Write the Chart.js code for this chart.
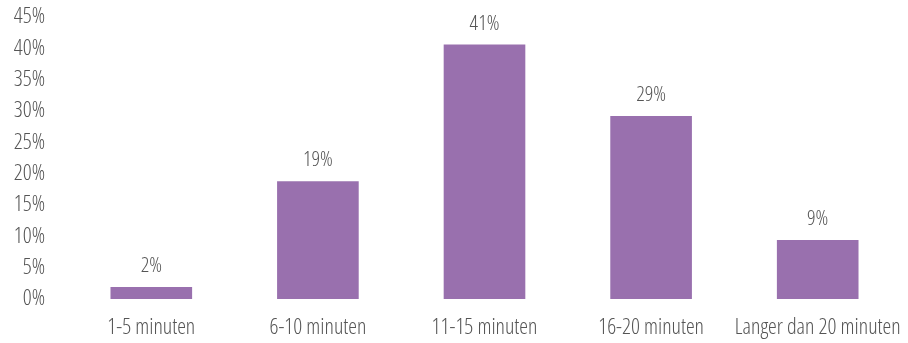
<!DOCTYPE html>
<html>
<head>
<meta charset="utf-8">
<script src="https://cdn.jsdelivr.net/npm/chart.js@4/dist/chart.umd.min.js"></script>
<style>
html,body{margin:0;padding:0;background:#fff;}
#wrap{width:908px;height:343px;position:relative;}
</style>
</head>
<body>
<div id="wrap"><canvas id="c" width="908" height="343"></canvas></div>
<script>
const categories = ["1-5 minuten", "6-10 minuten", "11-15 minuten", "16-20 minuten", "Langer dan 20 minuten"];
const values = [1.9, 18.8, 40.6, 29.2, 9.4];
const valueLabels = ["2%", "19%", "41%", "29%", "9%"];
const yMin = 0, yMax = 45, yStep = 5;

const FAMILY = "'Open Sans', 'Roboto', sans-serif";
const WEIGHT = "condensed 300";
const TEXT = "#555555";
const BAR = "#9970AE";

const labelPlugin = {
  id: 'valueLabels',
  afterDatasetsDraw(chart) {
    const ctx = chart.ctx;
    const meta = chart.getDatasetMeta(0);
    ctx.save();
    ctx.font = WEIGHT + " 21px " + FAMILY;
    ctx.fillStyle = TEXT;
    ctx.textAlign = "center";
    ctx.textBaseline = "alphabetic";
    meta.data.forEach((el, i) => {
      ctx.fillText(valueLabels[i], el.x, el.y - 15);
    });
    ctx.restore();
  }
};

function noPad(scale) {
  scale.paddingTop = 0; scale.paddingBottom = 0;
  scale.paddingLeft = 0; scale.paddingRight = 0;
}

new Chart(document.getElementById('c'), {
  type: 'bar',
  data: {
    labels: categories,
    datasets: [{
      data: values,
      backgroundColor: BAR,
      borderWidth: 0,
      categoryPercentage: 1.0,
      barPercentage: 0.49
    }]
  },
  options: {
    responsive: false,
    animation: false,
    devicePixelRatio: 1,
    layout: { autoPadding: false, padding: { left: 0, right: 7, top: 17, bottom: 0 } },
    plugins: { legend: { display: false }, tooltip: { enabled: false } },
    scales: {
      x: {
        grid: { display: false, drawTicks: false },
        border: { display: false },
        ticks: { color: TEXT, font: { family: FAMILY, size: 22, weight: WEIGHT }, padding: 16, maxRotation: 0, autoSkip: false },
        afterFit(scale) { scale.height = 44; noPad(scale); }
      },
      y: {
        min: yMin, max: yMax,
        grid: { display: false, drawTicks: false },
        border: { display: false },
        ticks: { stepSize: yStep, autoSkip: false, color: TEXT, font: { family: FAMILY, size: 22, weight: WEIGHT }, padding: 23,
          callback: v => v + "%" },
        afterFit(scale) { scale.width = 68; noPad(scale); }
      }
    }
  },
  plugins: [labelPlugin]
});
</script>
</body>
</html>
